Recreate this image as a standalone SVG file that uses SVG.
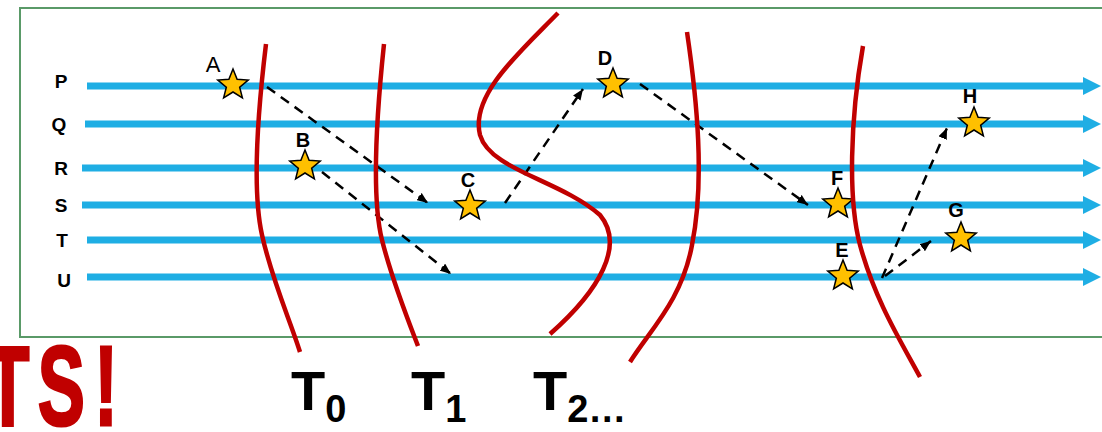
<svg xmlns="http://www.w3.org/2000/svg" width="1102" height="432" viewBox="0 0 1102 432">
<style>
.lane{stroke:#1FAEE4;stroke-width:7;fill:none}
.lanehead{fill:#1FAEE4}
.cut{stroke:#C00000;stroke-width:4.5;fill:none;stroke-linecap:butt}
.dash{stroke:#000;stroke-width:2.5;fill:none;stroke-dasharray:10 7}
.star{fill:#FFC000;stroke:#000;stroke-width:1.5;stroke-linejoin:miter}
.lbl{font-family:"Liberation Sans",Arial,sans-serif;font-weight:bold;font-size:19px;fill:#000;text-anchor:middle}
.slbl{font-family:"Liberation Sans",Arial,sans-serif;font-weight:bold;font-size:20px;fill:#000;text-anchor:middle}
.big{font-family:"Liberation Sans",Arial,sans-serif;font-weight:bold;fill:#000}
</style>
<defs>
<polygon id="st" points="0,-16 4.11,-5.66 15.22,-4.94 6.66,2.16 9.4,12.94 0,7 -9.4,12.94 -6.66,2.16 -15.22,-4.94 -4.11,-5.66"/>
<marker id="ah" markerUnits="userSpaceOnUse" markerWidth="11" markerHeight="9" refX="11" refY="4.5" orient="auto">
<path d="M0,0 L11,4.5 L0,9 z" fill="#000"/>
</marker>
</defs>
<rect x="20" y="8" width="1100" height="329" fill="#fff" stroke="#5A9A68" stroke-width="2"/>
<g id="lanes">
<g id="lane-P"><line class="lane" x1="87" y1="86" x2="1085" y2="86"/><polygon class="lanehead" points="1083,77 1101,86 1083,95"/><text class="lbl" x="61" y="88">P</text></g>
<g id="lane-Q"><line class="lane" x1="85" y1="124" x2="1085" y2="124"/><polygon class="lanehead" points="1083,115 1101,124 1083,133"/><text class="lbl" x="59" y="131">Q</text></g>
<g id="lane-R"><line class="lane" x1="82" y1="168" x2="1085" y2="168"/><polygon class="lanehead" points="1083,159 1101,168 1083,177"/><text class="lbl" x="61" y="175">R</text></g>
<g id="lane-S"><line class="lane" x1="82" y1="205" x2="1085" y2="205"/><polygon class="lanehead" points="1083,196 1101,205 1083,214"/><text class="lbl" x="61" y="212">S</text></g>
<g id="lane-T"><line class="lane" x1="87" y1="240" x2="1085" y2="240"/><polygon class="lanehead" points="1083,231 1101,240 1083,249"/><text class="lbl" x="62" y="247">T</text></g>
<g id="lane-U"><line class="lane" x1="87" y1="277" x2="1085" y2="277"/><polygon class="lanehead" points="1083,268 1101,277 1083,286"/><text class="lbl" x="64" y="287">U</text></g>
</g>
<g id="connectors">
<line class="dash" x1="267" y1="87" x2="428" y2="203" marker-end="url(#ah)"/>
<line class="dash" x1="322" y1="172" x2="451" y2="274" marker-end="url(#ah)"/>
<line class="dash" x1="505" y1="203" x2="583" y2="89" marker-end="url(#ah)"/>
<line class="dash" x1="640" y1="84" x2="808" y2="205" marker-end="url(#ah)"/>
<line class="dash" x1="882" y1="278" x2="947" y2="128" marker-end="url(#ah)"/>
<line class="dash" x1="885" y1="276" x2="931" y2="241" marker-end="url(#ah)"/>
</g>
<g id="event-A"><use href="#st" class="star" x="233" y="85"/><text x="213" y="72" font-family="Liberation Sans,Arial,sans-serif" font-size="22" text-anchor="middle">A</text></g>
<g id="event-B"><use href="#st" class="star" x="305" y="166"/><text class="slbl" x="303" y="147">B</text></g>
<g id="event-C"><use href="#st" class="star" x="470" y="206"/><text class="slbl" x="468" y="187">C</text></g>
<g id="event-D"><use href="#st" class="star" x="613" y="84"/><text class="slbl" x="605" y="65">D</text></g>
<g id="event-F"><use href="#st" class="star" x="838" y="204"/><text class="slbl" x="837" y="185">F</text></g>
<g id="event-H"><use href="#st" class="star" x="974" y="123"/><text class="slbl" x="970" y="103">H</text></g>
<g id="event-G"><use href="#st" class="star" x="961" y="238"/><text class="slbl" x="956" y="217">G</text></g>
<g id="event-E"><use href="#st" class="star" x="843" y="276"/><text class="slbl" x="842" y="257">E</text></g>
<g id="cuts">
<path id="cut-T0" class="cut" d="M266,44 C258,110 252,190 262,235 S290,320 300,352"/>
<path id="cut-T1" class="cut" d="M384,44 C376,120 372,200 382,240 S408,320 418,346"/>
<path id="cut-T2" class="cut" d="M558,13 C520,52 470,95 480,135 C490,170 560,180 600,215 C625,245 600,290 550,334"/>
<path id="cut-T3" class="cut" d="M687,32 C697,100 705,180 692,245 C682,300 650,330 630,362"/>
<path id="cut-T4" class="cut" d="M863,46 C850,120 848,200 860,245 C875,300 900,340 920,377"/>
</g>
<g id="labels">
<text class="big" x="291" y="410" font-size="56">T<tspan font-size="38" dy="12">0</tspan></text>
<text class="big" x="411" y="410" font-size="56">T<tspan font-size="38" dy="12">1</tspan></text>
<text class="big" x="533" y="410" font-size="56">T<tspan font-size="38" dy="12">2…</tspan></text>
<text transform="translate(0,425) scale(0.62,1)" x="-22 61 152" y="0" font-family="Liberation Sans,Arial,sans-serif" font-weight="bold" font-size="114" fill="#C00000" stroke="#C00000" stroke-width="3">TS!</text>
</g>
</svg>
